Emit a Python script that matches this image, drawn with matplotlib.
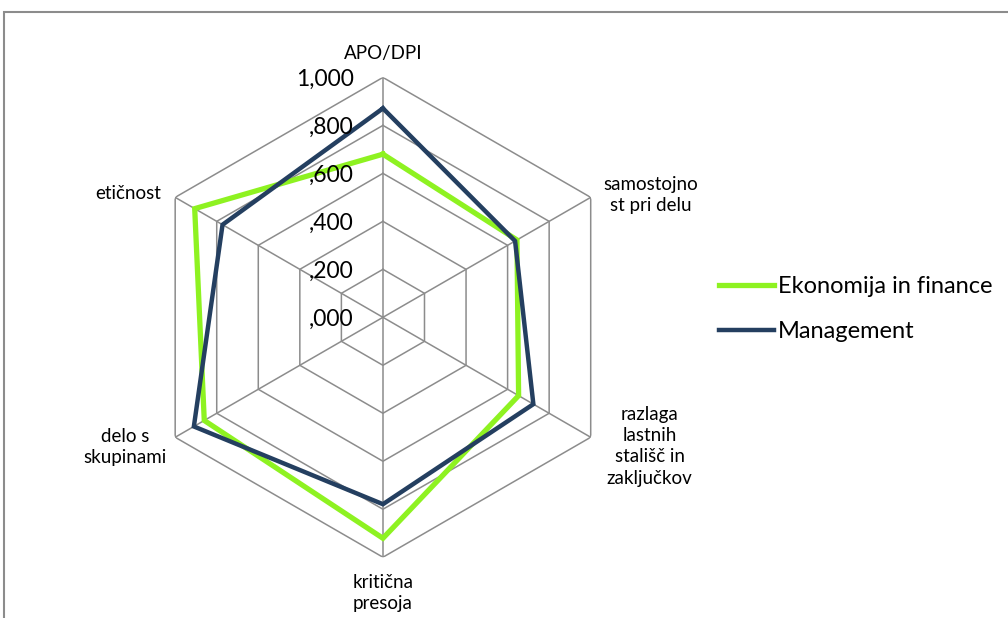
import numpy as np
import matplotlib
matplotlib.use("Agg")
import matplotlib.pyplot as plt
from matplotlib.patches import Rectangle

plt.rcParams["font.family"] = ["Lato", "DejaVu Sans"]

categories = ["APO/DPI", "samostojno\nst pri delu", "razlaga\nlastnih\nstališč in\nzaključkov",
              "kritična\npresoja", "delo s\nskupinami", "etičnost"]
ekonomija = [0.68, 0.645, 0.653, 0.921, 0.86, 0.906]
management = [0.871, 0.636, 0.724, 0.779, 0.91, 0.772]
levels = [0.0, 0.2, 0.4, 0.6, 0.8, 1.0]
level_labels = [",000", ",200", ",400", ",600", ",800", "1,000"]

GREEN = "#8EF221"
NAVY = "#243F60"
GRID = "#8C8C8C"

fig = plt.figure(figsize=(10.08, 6.18), dpi=100)
fig.patches.append(Rectangle((4 / 1008, -0.1), 1.2, 606 / 618 + 0.1, transform=fig.transFigure,
                             fill=False, edgecolor="#8C8C8C", linewidth=1.5))

ax = fig.add_axes([0.1419, 0.0982, 0.476, 0.7767], projection="polar")
ax.set_theta_zero_location("N")
ax.set_theta_direction(-1)
ax.set_ylim(0, 1)
ax.grid(False)
ax.spines["polar"].set_visible(False)
ax.set_xticks([])
ax.set_yticks([])
ax.patch.set_alpha(0)

n = len(categories)
angles = np.linspace(0, 2 * np.pi, n, endpoint=False)
closed = np.append(angles, angles[0])

# sestkotna mreza
for lv in levels[1:]:
    ax.plot(closed, [lv] * (n + 1), color=GRID, linewidth=1.1, zorder=1)
for a in angles:
    ax.plot([a, a], [0, 1], color=GRID, linewidth=1.1, zorder=1)

ax.plot(closed, ekonomija + ekonomija[:1], color=GREEN, linewidth=3.8, zorder=3,
        label="Ekonomija in finance", solid_joinstyle="miter")
ax.plot(closed, management + management[:1], color=NAVY, linewidth=3.2, zorder=4,
        label="Management", solid_joinstyle="miter")

# oznake vrednosti na zgornji osi
for lv, txt in zip(levels, level_labels):
    ax.annotate(txt, xy=(0, lv), xytext=(-21, -1.5), textcoords="offset points",
                ha="right", va="center", fontsize=16.5, zorder=5)

# oznake kategorij
offsets = [(0, 17), (43, 1.5), (42.5, -6.5), (0, -26), (-36, -7), (-34, 3)]
for a, lab, off in zip(angles, categories, offsets):
    ax.annotate(lab, xy=(a, 1.0), xytext=off, textcoords="offset points",
                ha="center", va="center", fontsize=13.5, linespacing=1.3)

fig.legend(loc="center left", bbox_to_anchor=(0.692, 0.5), frameon=False,
           fontsize=17, handlelength=2.33, handletextpad=0.17, labelspacing=1.03)

fig.savefig("out.png", dpi=100, facecolor="white")
